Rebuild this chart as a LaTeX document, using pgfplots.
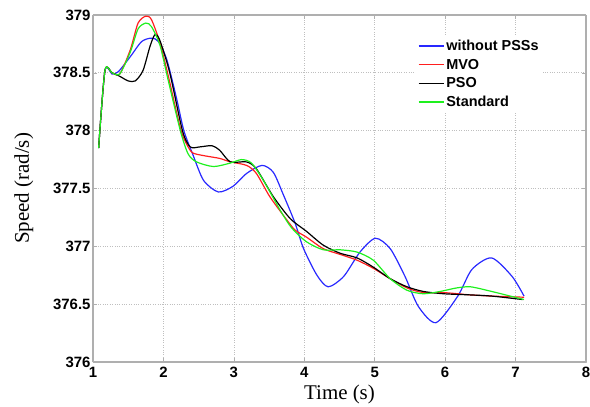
\documentclass[border=0pt]{standalone}
\usepackage{fontspec}
\setmainfont{Liberation Serif}
\setsansfont{Liberation Sans}[BoldFont={Liberation Sans Bold}]
\usepackage{pgfplots}
\pgfplotsset{compat=1.18}
\definecolor{cblue}{RGB}{40,40,255}
\definecolor{cred}{RGB}{255,30,30}
\definecolor{cgreen}{RGB}{30,240,30}
\definecolor{axgray}{RGB}{175,175,175}
\begin{document}
\begin{tikzpicture}
\useasboundingbox (-93bp,-45bp) rectangle (497bp,362bp);
\begin{axis}[
  scale only axis,
  width=493bp, height=347bp,
  xmin=1, xmax=8, ymin=376, ymax=379,
  xtick={1,2,...,8},
  xticklabels={1,2,3,4,5,6,7,8},
  ytick={376,376.5,377,377.5,378,378.5,379},
  yticklabels={376,376.5,377,377.5,378,378.5,379},
  tick label style={font=\fontsize{15}{17}\selectfont\sffamily\bfseries},
  yticklabel style={xshift=1bp},
  xticklabel style={yshift=-2bp},
  xlabel={Time (s)}, ylabel={Speed (rad/s)},
  label style={font=\fontsize{21}{24}\selectfont},
  xlabel style={yshift=0bp},
  ylabel style={yshift=13bp},
  separate axis lines,
  axis line style={axgray, line width=1.2pt},
  every outer x axis line/.append style={axgray},
  every outer y axis line/.append style={axgray},
  tick style={axgray, line width=0.6pt},
  tick align=inside,
  major tick length=4bp,
  grid=major,
  grid style={dotted, gray!50, line width=0.7pt},
  legend style={at={(0.655,0.94)}, anchor=north west, draw=none, fill=white,
    font=\fontsize{14.5}{16}\selectfont\sffamily\bfseries, row sep=3bp,
    inner sep=2bp},
  legend cell align=left,
  legend image code/.code={\draw[#1, line width=1.2pt] (0bp,0bp) -- (25bp,0bp);},
  every axis plot/.append style={line width=1.2pt, smooth, tension=0.45},
]
\addplot[cblue] coordinates {
(1.08,377.85) (1.17,378.52) (1.27,378.49) (1.36,378.51) (1.53,378.64) (1.69,378.77)
(1.83,378.80) (1.93,378.77) (2.05,378.61) (2.19,378.27) (2.29,378.00) (2.42,377.79)
(2.57,377.57) (2.78,377.47) (2.99,377.52) (3.18,377.63) (3.40,377.70) (3.56,377.64)
(3.70,377.45) (3.87,377.20) (3.99,376.98) (4.18,376.75) (4.34,376.65) (4.56,376.74)
(4.79,376.95) (5.01,377.07) (5.22,376.98) (5.43,376.74) (5.62,376.48) (5.87,376.34)
(6.18,376.57) (6.38,376.80) (6.66,376.90) (6.95,376.74) (7.12,376.57)};
\addlegendentry{without PSSs}
\addplot[cred] coordinates {
(1.08,377.85) (1.17,378.52) (1.27,378.50) (1.38,378.49) (1.53,378.70) (1.64,378.93)
(1.75,378.99) (1.83,378.96) (1.95,378.76) (2.07,378.47) (2.25,378.00) (2.38,377.83)
(2.45,377.80) (2.61,377.78) (2.80,377.76) (2.95,377.73) (3.18,377.70) (3.32,377.63)
(3.51,377.43) (3.75,377.23) (3.87,377.14) (4.03,377.08) (4.27,376.98) (4.51,376.93)
(4.75,376.88) (4.98,376.81) (5.22,376.72) (5.46,376.64) (5.69,376.60) (5.98,376.60)
(6.36,376.58) (6.66,376.57) (7.12,376.56)};
\addlegendentry{MVO}
\addplot[black] coordinates {
(1.08,377.85) (1.17,378.52) (1.27,378.50) (1.38,378.47) (1.50,378.43) (1.60,378.43)
(1.71,378.52) (1.81,378.73) (1.88,378.83) (1.95,378.78) (2.09,378.50) (2.27,378.00)
(2.38,377.86) (2.52,377.86) (2.69,377.87) (2.80,377.83) (2.95,377.73) (3.18,377.73)
(3.32,377.67) (3.56,377.43) (3.80,377.24) (4.03,377.13) (4.27,377.01) (4.51,376.94)
(4.75,376.90) (4.98,376.82) (5.22,376.72) (5.46,376.65) (5.69,376.61) (5.98,376.59)
(6.36,376.58) (6.66,376.57) (7.10,376.54)};
\addlegendentry{PSO}
\addplot[cgreen] coordinates {
(1.08,377.85) (1.17,378.52) (1.27,378.50) (1.38,378.49) (1.53,378.68) (1.64,378.88)
(1.75,378.93) (1.83,378.90) (1.95,378.74) (2.07,378.43) (2.24,378.00) (2.35,377.80)
(2.47,377.73) (2.71,377.69) (2.95,377.72) (3.11,377.75) (3.25,377.72) (3.42,377.57)
(3.66,377.31) (3.82,377.16) (4.03,377.04) (4.27,376.97) (4.51,376.97) (4.75,376.95)
(4.98,376.88) (5.22,376.72) (5.46,376.62) (5.69,376.59) (5.93,376.61) (6.16,376.64)
(6.36,376.65) (6.66,376.61) (7.12,376.54)};
\addlegendentry{Standard}
\end{axis}
\end{tikzpicture}
\end{document}
